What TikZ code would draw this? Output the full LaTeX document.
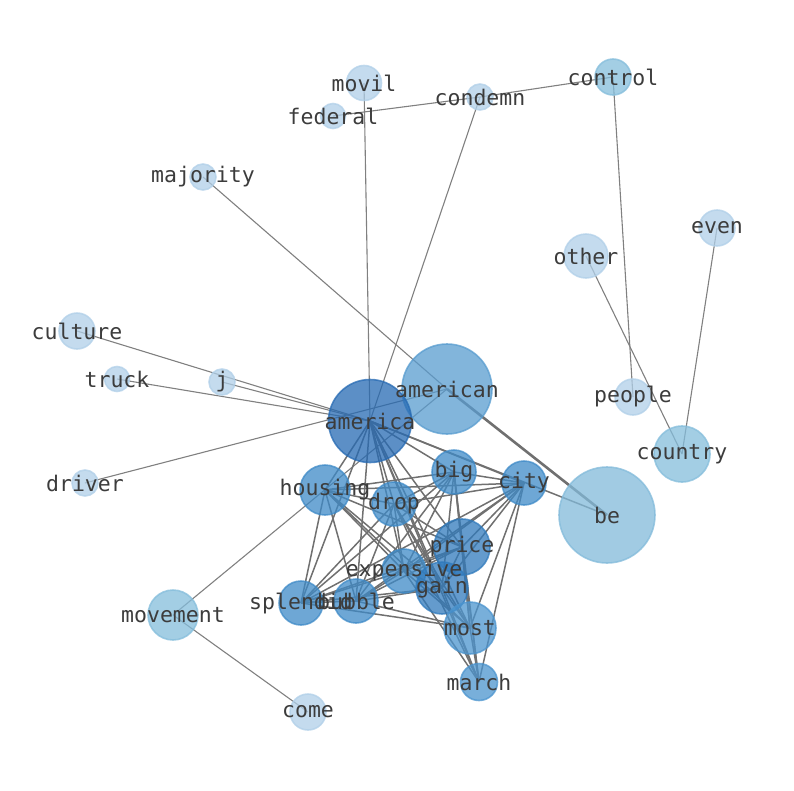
\documentclass[tikz,border=0pt]{standalone}
\usepackage{fontspec}
\setmonofont{DejaVu Sans Mono}
\pgfdeclarelayer{edges}
\pgfsetlayers{edges,main}
\definecolor{cLight}{RGB}{176,207,232}
\definecolor{cMid}{RGB}{132,189,219}
\definecolor{cBe}{RGB}{130,186,218}
\definecolor{cAmn}{RGB}{88,156,207}
\definecolor{cAma}{RGB}{38,106,179}
\definecolor{cClu}{RGB}{62,138,199}
\definecolor{cPg}{RGB}{48,122,188}
\definecolor{cMost}{RGB}{75,148,206}
\definecolor{cEdge}{RGB}{128,128,128}
\definecolor{cCEdge}{RGB}{112,112,112}
\definecolor{cText}{RGB}{60,60,60}
\tikzset{
  vtx/.style={circle, inner sep=0pt, minimum size=#1, line width=1.6pt, fill opacity=0.75, draw opacity=0.75},
  lbl/.style={text=cText, font=\ttfamily\fontsize{21.5}{22}\selectfont, inner sep=0pt},
  edg/.style={draw=cEdge, line width=1.1pt},
  cedg/.style={draw=cCEdge, line width=1.5pt},
  thickedg/.style={draw=cCEdge, line width=2.6pt},
}
\newcommand\vx[5]{\node[vtx=#4, fill=#5, draw=#5] (#1) at (#2,#3) {};}
\begin{document}
\begin{tikzpicture}[x=1pt,y=-1pt]
\useasboundingbox (0,0) rectangle (794,790);
% nodes
\vx{movil}{364}{83}{35}{cLight}
\vx{federal}{333}{116}{25}{cLight}
\vx{condemn}{480}{97}{26}{cLight}
\vx{control}{613}{77}{36}{cMid}
\vx{majority}{203}{177}{26}{cLight}
\vx{even}{717}{228}{36}{cLight}
\vx{other}{586}{256}{44}{cLight}
\vx{culture}{77}{331}{36}{cLight}
\vx{truck}{117}{379}{25}{cLight}
\vx{j}{222}{382}{26}{cLight}
\vx{american}{447}{389}{90}{cAmn}
\vx{america}{370}{421}{83}{cAma}
\vx{people}{633}{397}{36}{cLight}
\vx{country}{682}{454}{56}{cMid}
\vx{driver}{85}{483}{26}{cLight}
\vx{housing}{325}{490}{50}{cClu}
\vx{drop}{394}{504}{44}{cClu}
\vx{big}{454}{472}{44}{cClu}
\vx{city}{524}{483}{44}{cClu}
\vx{be}{607}{515}{96}{cBe}
\vx{price}{462}{547}{56}{cPg}
\vx{expensive}{404}{571}{44}{cClu}
\vx{gain}{442}{588}{52}{cPg}
\vx{splendid}{301}{603}{44}{cClu}
\vx{bubble}{356}{601}{44}{cClu}
\vx{movement}{173}{615}{50}{cMid}
\vx{most}{470}{628}{52}{cMost}
\vx{march}{479}{682}{37}{cMost}
\vx{come}{308}{712}{36}{cLight}
% edges
\begin{pgfonlayer}{edges}
\foreach \a/\b in {federal/condemn, condemn/control, movil/america, condemn/america,
  control/people, majority/american, other/country, even/country, culture/america,
  j/america, truck/america, driver/american, movement/american, movement/come}
  \draw[edg] (\a.center) -- (\b.center);
\draw[thickedg] (american.center) -- (be.center);
\foreach \a/\b in {america/be,
  america/housing, america/drop, america/big, america/city, america/price, america/expensive,
  america/gain, america/splendid, america/bubble, america/most, america/march,
  housing/drop, housing/big, housing/city, housing/price, housing/expensive, housing/gain,
  housing/splendid, housing/bubble, housing/most,
  drop/big, drop/city, drop/price, drop/expensive, drop/gain, drop/splendid, drop/bubble,
  drop/most, drop/march,
  big/city, big/price, big/expensive, big/gain, big/splendid, big/bubble, big/most, big/march,
  city/price, city/expensive, city/gain, city/splendid, city/bubble, city/most, city/march,
  price/expensive, price/gain, price/splendid, price/bubble, price/most, price/march,
  expensive/gain, expensive/splendid, expensive/bubble, expensive/most, expensive/march,
  gain/splendid, gain/bubble, gain/most, gain/march,
  splendid/bubble, splendid/most, bubble/most, most/march}
  \draw[cedg] (\a.center) -- (\b.center);
\end{pgfonlayer}
% labels
\foreach \n in {movil, federal, condemn, control, majority, even, other, culture, truck, j,
  american, america, people, country, driver, housing, drop, big, city, be, price,
  expensive, gain, splendid, bubble, movement, most, march, come}
  \node[lbl] (\n-t) at (\n) {\n};
\end{tikzpicture}
\end{document}
